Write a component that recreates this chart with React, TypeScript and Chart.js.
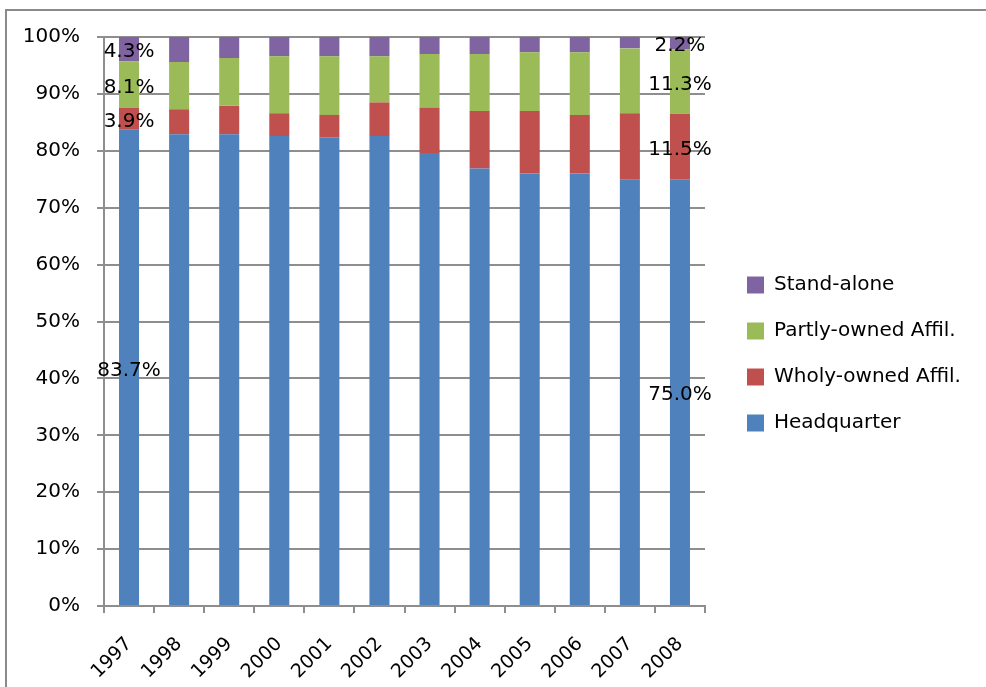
import React, { useEffect, useRef } from 'react';
import { Chart, registerables } from 'chart.js';

Chart.register(...registerables);

const years = ['1997', '1998', '1999', '2000', '2001', '2002', '2003', '2004', '2005', '2006', '2007', '2008'];
const headquarter = [83.7, 82.9, 82.9, 82.6, 82.3, 82.6, 79.6, 76.9, 76.0, 76.0, 74.9, 75.0];
const wholyOwned = [3.9, 4.4, 5.0, 4.0, 4.0, 5.9, 8.0, 10.1, 11.0, 10.3, 11.7, 11.5];
const partlyOwned = [8.1, 8.3, 8.4, 10.0, 10.3, 8.1, 9.4, 10.0, 10.3, 11.0, 11.4, 11.3];
const standAlone = [4.3, 4.4, 3.7, 3.4, 3.4, 3.4, 3.0, 3.0, 2.7, 2.7, 2.0, 2.2];
const seriesNames = ['Headquarter', 'Wholy-owned Affil.', 'Partly-owned Affil.', 'Stand-alone'];
const seriesColors = ['#4F81BD', '#C0504D', '#9BBB59', '#8064A2'];
const labeledIndices = [0, 11];
const yTicks = [0, 10, 20, 30, 40, 50, 60, 70, 80, 90, 100];

const FONT = '"DejaVu Sans", sans-serif';
const GRID = '#8e8e8e';

const segmentLabels = {
  id: 'segmentLabels',
  afterDatasetsDraw(chart: any) {
    const ctx = chart.ctx;
    ctx.save();
    ctx.font = `20px ${FONT}`;
    ctx.fillStyle = '#000';
    ctx.textAlign = 'center';
    ctx.textBaseline = 'middle';
    chart.data.datasets.forEach((ds: any, i: number) => {
      const meta = chart.getDatasetMeta(i);
      labeledIndices.forEach((j) => {
        const el = meta.data[j];
        if (!el) return;
        const p = el.getProps(['x', 'y', 'base'], true);
        ctx.fillText(Number(ds.data[j]).toFixed(1) + '%', p.x, (p.y + p.base) / 2 + 3);
      });
    });
    ctx.restore();
  },
};

const legendShift = {
  id: 'legendShift',
  afterLayout(chart: any) {
    const l = chart.legend;
    if (l) {
      l.left += 16;
      l.right = chart.width;
      l.width = l.right - l.left;
      l.top -= 16;
      l.height = l.bottom - l.top;
    }
  },
};

export default function App() {
  const ref = useRef<HTMLCanvasElement>(null);
  useEffect(() => {
    if (!ref.current) return;
    const data = [headquarter, wholyOwned, partlyOwned, standAlone];
    const chart = new Chart(ref.current, {
      type: 'bar',
      data: {
        labels: years,
        datasets: data.map((d, i) => ({
          label: seriesNames[i],
          data: d,
          backgroundColor: seriesColors[i],
          borderWidth: 0,
          barPercentage: 0.4,
          categoryPercentage: 1,
        })),
      },
      options: {
        responsive: false,
        animation: false,
        devicePixelRatio: 1,
        layout: { padding: { top: 37, bottom: 0, left: 0, right: 46 } },
        font: { family: FONT, size: 20 },
        color: '#000',
        plugins: {
          legend: {
            position: 'right',
            reverse: true,
            labels: {
              boxWidth: 17,
              boxHeight: 17,
              padding: 26,
              color: '#000',
              font: { family: FONT, size: 20 },
            },
          },
          tooltip: { enabled: false },
        },
        scales: {
          x: {
            stacked: true,
            grid: { display: true, drawOnChartArea: false, drawTicks: true, tickLength: 7, color: GRID, lineWidth: 2 },
            border: { display: true, color: GRID, width: 2 },
            ticks: { minRotation: 45, maxRotation: 45, padding: 20, color: '#000', font: { family: FONT, size: 19 } },
            afterFit: (s: any) => { s.height = 81; },
          },
          y: {
            stacked: true,
            min: 0,
            max: 100,
            afterBuildTicks: (s: any) => { s.ticks = yTicks.map((v) => ({ value: v })); },
            grid: { color: GRID, lineWidth: 2, tickLength: 7, drawTicks: true },
            border: { display: true, color: GRID, width: 2 },
            ticks: { padding: 17, color: '#000', font: { family: FONT, size: 20 }, callback: (v: any) => v + '%' },
            afterFit: (s: any) => { s.width = 104; },
          },
        },
      },
      plugins: [segmentLabels, legendShift],
    });
    return () => chart.destroy();
  }, []);

  return (
    <div style={{ position: 'fixed', left: 0, top: 0, width: 986, height: 687, overflow: 'hidden', background: '#fff' }}>
      <div style={{ position: 'absolute', left: 5, top: 9, width: 981, height: 2, background: '#8a8a8a' }} />
      <div style={{ position: 'absolute', left: 5, top: 9, width: 2, height: 678, background: '#8a8a8a' }} />
      <canvas ref={ref} width={986} height={687} style={{ position: 'absolute', left: 0, top: 0, width: 986, height: 687 }} />
    </div>
  );
}
